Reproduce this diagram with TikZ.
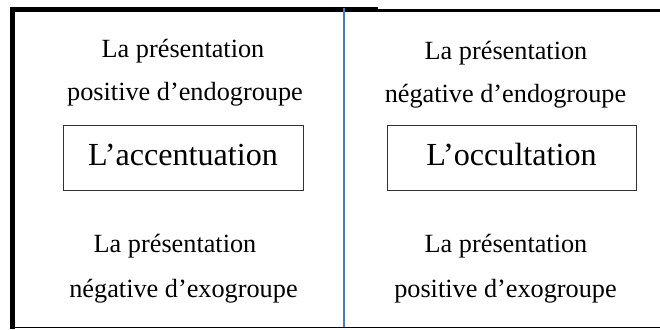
\documentclass[tikz,border=0pt]{standalone}
\usepackage{fontspec}
\setmainfont{Liberation Serif}
\definecolor{sepblue}{HTML}{4A7EBB}
\begin{document}
\begin{tikzpicture}[x=0.75pt,y=-0.75pt,
  lbl/.style={anchor=base,inner sep=0pt,font=\fontsize{19.7}{24}\selectfont},
  termbox/.style={draw=black!80,line width=0.75pt,minimum width=180pt,minimum height=48.75pt,inner sep=0pt,font=\fontsize{24.1}{29}\selectfont,text height=16.4pt,text depth=4.8pt}]
\useasboundingbox (0,0) rectangle (660,329);
% frame
\draw[line width=4pt] (10,9.6) -- (378,9.6);
\draw[line width=2.5pt] (378,10.7) -- (660,10.7);
\draw[line width=3.75pt] (12.5,7) -- (12.5,328.5);
\draw[line width=1.1pt] (10,327.7) -- (660,327.7);
\draw[sepblue,line width=1.5pt] (344,8) -- (344,327);
% left column
\node[lbl] (t1) at (183,57) {La présentation};
\node[lbl] (t2) at (185,100) {positive d’endogroupe};
\node[termbox] (acc) at (183,157.5) {L’accentuation};
\node[lbl] (b1) at (175,252) {La présentation};
\node[lbl] (b2) at (183.5,297) {négative d’exogroupe};
% right column
\node[lbl] (t3) at (506,59) {La présentation};
\node[lbl] (t4) at (505.5,102) {négative d’endogroupe};
\node[termbox,minimum width=186.75pt] (occ) at (511.5,157.5) {L’occultation};
\node[lbl] (b3) at (506,252) {La présentation};
\node[lbl] (b4) at (505.5,297) {positive d’exogroupe};
\end{tikzpicture}
\end{document}
